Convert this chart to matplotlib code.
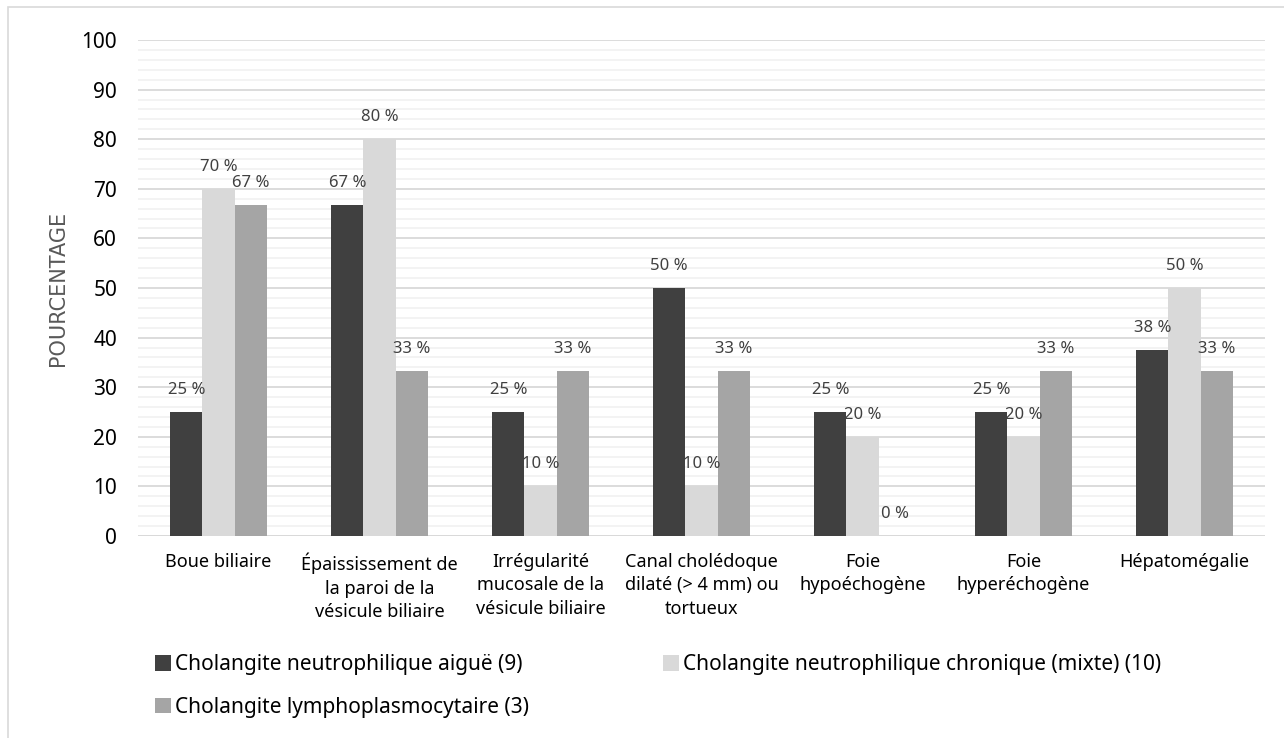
import matplotlib
matplotlib.use("Agg")
import matplotlib.pyplot as plt
from matplotlib.patches import Rectangle
from matplotlib.ticker import MultipleLocator
import numpy as np

categories = [
    "Boue biliaire",
    "Épaississement de\nla paroi de la\nvésicule biliaire",
    "Irrégularité\nmucosale de la\nvésicule biliaire",
    "Canal cholédoque\ndilaté (> 4 mm) ou\ntortueux",
    "Foie\nhypoéchogène",
    "Foie\nhyperéchogène",
    "Hépatomégalie",
]
aigue = [25, 66.7, 25, 50, 25, 25, 37.5]
chronique = [70, 80, 10, 10, 20, 20, 50]
lympho = [66.7, 33.3, 33.3, 33.3, 0, 33.3, 33.3]
series_names = [
    "Cholangite neutrophilique aiguë (9)",
    "Cholangite neutrophilique chronique (mixte) (10)",
    "Cholangite lymphoplasmocytaire (3)",
]
colors = ["#404040", "#D9D9D9", "#A5A5A5"]

plt.rcParams["font.family"] = ["Noto Sans", "DejaVu Sans"]

fig = plt.figure(figsize=(12.84, 7.38), dpi=100)
ax = fig.add_axes([138 / 1284, 1 - 536 / 738, 1127 / 1284, 496 / 738])

x = np.arange(len(categories))
w = 0.2
bars = []
for i, (vals, c, name) in enumerate(zip([aigue, chronique, lympho], colors, series_names)):
    b = ax.bar(x + (i - 1) * w, vals, w, color=c, label=name, zorder=3)
    bars.append(b)
    for xi, v in zip(x + (i - 1) * w, vals):
        ax.annotate(f"{v:.0f} %", (xi, v), textcoords="offset points", xytext=(0, 16),
                    ha="center", va="center", fontsize=12, color="#404040", zorder=4)

ax.set_xlim(-0.5, len(categories) - 0.5)
ax.set_ylim(0, 100)
ax.set_yticks(np.arange(0, 101, 10))
ax.yaxis.set_minor_locator(MultipleLocator(2))
ax.grid(which="major", axis="y", color="#D9D9D9", lw=1.3, zorder=1)
ax.grid(which="minor", axis="y", color="#F2F2F2", lw=1.3, zorder=0)
for s in ax.spines.values():
    s.set_visible(False)
ax.axhline(0, color="#D9D9D9", lw=1.3, zorder=2)
ax.tick_params(which="both", length=0)
ax.tick_params(axis="y", pad=15, labelsize=15)
ax.set_xticks(x)
ax.set_xticklabels(categories, fontsize=13, linespacing=1.4)
ax.tick_params(axis="x", pad=12)
ax.set_ylabel("POURCENTAGE", color="#595959", fontsize=15,
              family=["Liberation Sans Narrow", "DejaVu Sans"], labelpad=10)

# legend: first column (entries 1 and 3), second column (entry 2)
kw = dict(frameon=False, fontsize=15, handlelength=0.78, handleheight=0.78,
          handletextpad=0.2, labelspacing=1.05, borderaxespad=0, borderpad=0)
fig.legend([bars[0], bars[2]], [series_names[0], series_names[2]],
           loc="upper left", bbox_to_anchor=(155 / 1284, 1 - 654 / 738), **kw)
fig.legend([bars[1]], [series_names[1]],
           loc="upper left", bbox_to_anchor=(663 / 1284, 1 - 654 / 738), **kw)

fig.patches.append(Rectangle((8 / 1284, -0.01), 1.0, 1 - 7 / 738 + 0.01,
                             transform=fig.transFigure, fill=False,
                             edgecolor="#D9D9D9", lw=1.2))

fig.savefig("out.png", dpi=100, facecolor="white")
